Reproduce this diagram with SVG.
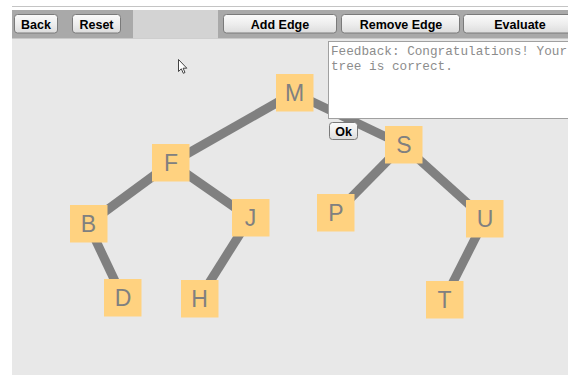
<svg xmlns="http://www.w3.org/2000/svg" width="568" height="375" viewBox="0 0 568 375">
  <defs>
    <linearGradient id="btn" x1="0" y1="0" x2="0" y2="1">
      <stop offset="0" stop-color="#fbfbfb"/>
      <stop offset="0.5" stop-color="#eeeeee"/>
      <stop offset="1" stop-color="#dcdcdc"/>
    </linearGradient>
  </defs>
  <style>
    .btn { fill: url(#btn); stroke: #7a7a7a; stroke-width: 1; }
    .btxt { font-family: "Liberation Sans", Arial, sans-serif; font-weight: bold; font-size: 12.5px; fill: #000; text-anchor: middle; }
    .node rect { fill: #ffd280; }
    .node text { font-family: "Liberation Sans", Arial, sans-serif; font-size: 23px; fill: #808080; text-anchor: middle; }
    .edges line { stroke: #808080; stroke-width: 9; }
    .fb { font-family: "Liberation Mono", "Courier New", monospace; font-size: 12.7px; fill: #8c8c8c; }
  </style>
  <rect x="0" y="0" width="568" height="375" fill="#ffffff"/>
  <line x1="12" y1="6.5" x2="568" y2="6.5" stroke="#c4c4c4" stroke-width="1"/>
  <!-- canvas -->
  <rect x="12" y="38" width="556" height="337" fill="#e8e8e8"/>
  <!-- toolbar -->
  <rect x="12" y="10" width="556" height="28.5" fill="#a9a9a9"/>
  <rect x="133" y="10" width="85" height="28.5" fill="#d3d3d3"/>
  <g id="btn-back"><rect class="btn" x="14.5" y="14.5" width="43" height="18.5" rx="3"/><text class="btxt" x="36" y="28.5">Back</text></g>
  <g id="btn-reset"><rect class="btn" x="72.5" y="14.5" width="48" height="18.5" rx="3"/><text class="btxt" x="96.5" y="28.5">Reset</text></g>
  <g id="btn-add"><rect class="btn" x="223.5" y="14.5" width="113" height="18.5" rx="3"/><text class="btxt" x="280" y="28.5">Add Edge</text></g>
  <g id="btn-remove"><rect class="btn" x="341.5" y="14.5" width="118" height="18.5" rx="3"/><text class="btxt" x="401" y="28.5">Remove Edge</text></g>
  <g id="btn-eval"><rect class="btn" x="463.5" y="14.5" width="115" height="18.5" rx="3"/><text class="btxt" x="520" y="28.5">Evaluate</text></g>

  <g class="edges" id="connectors">
    <line x1="294" y1="93" x2="171" y2="163"/>
    <line x1="294" y1="93" x2="403" y2="145"/>
    <line x1="171" y1="163" x2="88" y2="224"/>
    <line x1="171" y1="163" x2="250" y2="218"/>
    <line x1="88" y1="224" x2="123" y2="298"/>
    <line x1="250" y1="218" x2="199" y2="299"/>
    <line x1="403" y1="145" x2="336" y2="213"/>
    <line x1="403" y1="145" x2="485" y2="219"/>
    <line x1="485" y1="219" x2="444" y2="300"/>
  </g>

  <g class="node" id="node-M"><rect x="276" y="74" width="37.5" height="37.5"/><text x="294.5" y="101">M</text></g>
  <g class="node" id="node-F"><rect x="152" y="144" width="37.5" height="37.5"/><text x="171" y="171">F</text></g>
  <g class="node" id="node-B"><rect x="70" y="205" width="37.5" height="37.5"/><text x="88.5" y="232">B</text></g>
  <g class="node" id="node-J"><rect x="232" y="199" width="37.5" height="37.5"/><text x="250.5" y="226">J</text></g>
  <g class="node" id="node-D"><rect x="104" y="279" width="37.5" height="37.5"/><text x="123" y="306">D</text></g>
  <g class="node" id="node-H"><rect x="181" y="280" width="37.5" height="37.5"/><text x="199.5" y="307">H</text></g>
  <g class="node" id="node-S"><rect x="385" y="126" width="37.5" height="37.5"/><text x="404" y="153">S</text></g>
  <g class="node" id="node-P"><rect x="317" y="194" width="37.5" height="37.5"/><text x="336" y="221">P</text></g>
  <g class="node" id="node-U"><rect x="466" y="200" width="37.5" height="37.5"/><text x="485" y="227">U</text></g>
  <g class="node" id="node-T"><rect x="426" y="281" width="37.5" height="37.5"/><text x="444.5" y="308">T</text></g>

  <!-- feedback box -->
  <g id="feedback">
    <rect x="328.5" y="41.5" width="245" height="77" fill="#ffffff" stroke="#a0a0a0" stroke-width="1"/>
    <text class="fb" x="331" y="55">Feedback: Congratulations! Your</text>
    <text class="fb" x="331" y="70">tree is correct.</text>
  </g>
  <g id="btn-ok"><rect class="btn" x="329.5" y="122.5" width="28" height="17" rx="3"/><text class="btxt" x="343.5" y="135.5">Ok</text></g>

  <!-- mouse cursor -->
  <path d="M178.5,59.5 L178.5,71.5 L181.3,68.8 L183.3,73.3 L185,72.5 L183.1,68.2 L186.8,68.2 Z" fill="#ffffff" stroke="#303030" stroke-width="0.9" stroke-linejoin="miter"/>
</svg>
